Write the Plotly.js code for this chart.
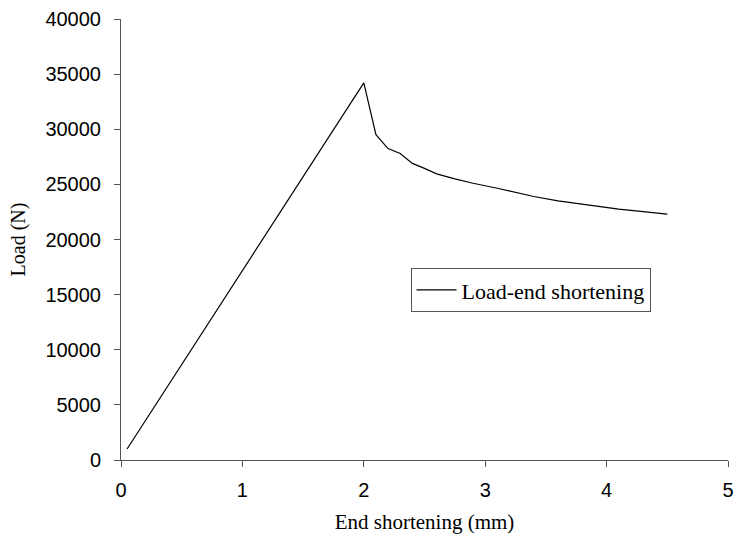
<!DOCTYPE html>
<html>
<head>
<meta charset="utf-8">
<script src="https://cdn.plot.ly/plotly-3.0.1.min.js"></script>
<style>html,body{margin:0;padding:0;background:#fff;}#chart{width:734px;height:538px;}</style>
</head>
<body>
<div id="chart"></div>
<script>
// End shortening (mm)
const shortening = [0.05, 2.0, 2.1, 2.2, 2.3, 2.4, 2.5, 2.6, 2.75, 2.9, 3.1, 3.4, 3.6, 3.85, 4.1, 4.5];
// Load (N)
const load = [1000, 34200, 29500, 28250, 27800, 26900, 26450, 25950, 25500, 25100, 24650, 23900, 23500, 23100, 22750, 22300];
const seriesName = "Load-end shortening";
const xTicks = [0, 1, 2, 3, 4, 5];
const yTicks = [0, 5000, 10000, 15000, 20000, 25000, 30000, 35000, 40000];

const trace = {
  x: shortening, y: load, type: "scatter", mode: "lines", name: seriesName,
  line: {color: "#000000", width: 1.2}, showlegend: true
};
const axisCommon = {
  showgrid: false, zeroline: false, showline: true, linecolor: "#555555", linewidth: 1,
  ticks: "outside", ticklen: 6, tickcolor: "#555555", tickwidth: 1,
  tickfont: {family: "Liberation Sans, Arial, sans-serif", size: 20, color: "#000"}
};
const layout = {
  width: 734, height: 538,
  margin: {l: 121, r: 6, t: 19, b: 78},
  paper_bgcolor: "#ffffff", plot_bgcolor: "#ffffff",
  showlegend: true,
  xaxis: Object.assign({}, axisCommon, {
    range: [0, 5], tickvals: xTicks, ticktext: xTicks.map(String), ticklabelstandoff: 6,
    title: {text: "End shortening (mm)", font: {family: "Liberation Serif, Times New Roman, serif", size: 21, color: "#000"}, standoff: 14}
  }),
  yaxis: Object.assign({}, axisCommon, {
    range: [0, 40000], tickvals: yTicks, ticktext: yTicks.map(String), ticklabelstandoff: 9,
    title: {text: "Load (N)", font: {family: "Liberation Serif, Times New Roman, serif", size: 20, color: "#000"}, standoff: 14}
  }),
  legend: {
    x: 0.477, y: 0.435, xanchor: "left", yanchor: "top", itemwidth: 40,
    bordercolor: "#555555", borderwidth: 1, bgcolor: "#ffffff",
    font: {family: "Liberation Serif, Times New Roman, serif", size: 22, color: "#000"}
  }
};
Plotly.newPlot("chart", [trace], layout, {displayModeBar: false, staticPlot: true});
</script>
</body>
</html>
